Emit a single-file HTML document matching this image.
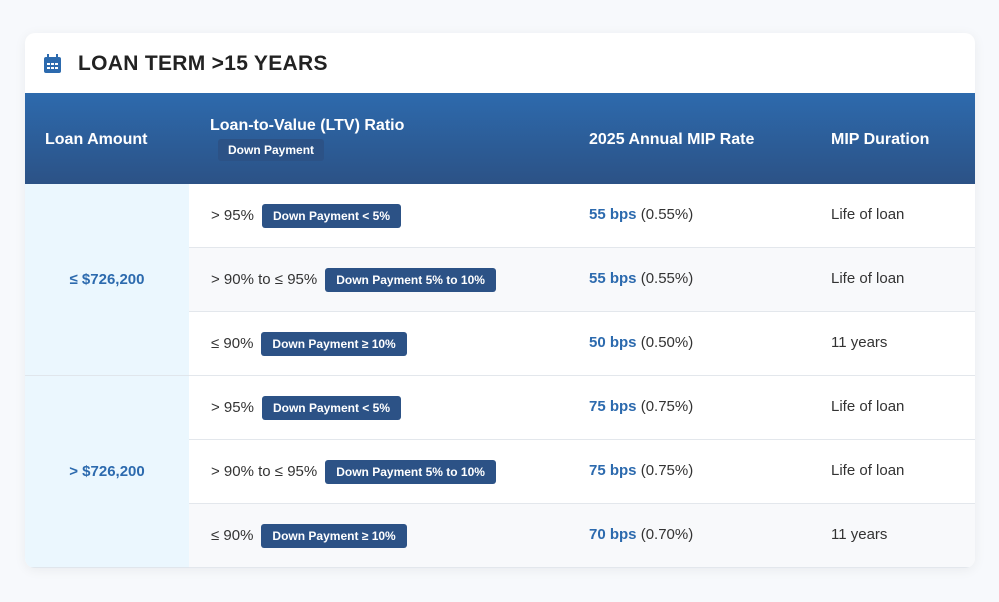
<!DOCTYPE html>
<html><head><meta charset="utf-8"><style>
body{margin:0;width:999px;height:602px;background:#f7f9fc;font-family:"Liberation Sans",sans-serif;position:relative;overflow:hidden}
.card{position:absolute;left:25px;top:33px;width:950px;height:535px;background:#fff;border-radius:10px;overflow:hidden;box-shadow:0 2px 12px rgba(0,0,0,.06)}
.title{position:absolute;left:53px;top:51px;font-size:21px;font-weight:bold;color:#222;letter-spacing:.3px}
.hdr{position:absolute;left:0;top:60px;width:950px;height:91px;background:linear-gradient(#2d6aad,#2c5286)}
.h{position:absolute;color:#fff;font-weight:bold;font-size:16px}
.row{position:absolute;left:164px;width:786px;height:63px;border-bottom:1px solid #e3e7ec}
.g{background:#f8f9fb}
.la{position:absolute;left:0;width:164px;height:191px;background:#ebf7fe;color:#2c6aae;font-weight:bold;font-size:15px;text-align:center;line-height:191px;border-bottom:1px solid #e0e6ec}
.t{position:absolute;font-size:15px;color:#333;top:22px}
.badge{display:inline-block;background:#2c5286;color:#fff;font-size:12px;font-weight:bold;padding:5px 11px;border-radius:3px;margin-left:8px;vertical-align:middle}
.rate b{color:#2c6aae}
</style></head><body>
<div class="card">
<svg style="position:absolute;left:19px;top:21px" width="17" height="19"><rect x="0" y="3" width="17" height="16" rx="2" fill="#2c6aae"/><rect x="3" y="0" width="2" height="5" fill="#2c6aae"/><rect x="12" y="0" width="2" height="5" fill="#2c6aae"/><g fill="#fff"><rect x="3" y="9" width="3" height="2"/><rect x="7" y="9" width="3" height="2"/><rect x="11" y="9" width="3" height="2"/><rect x="3" y="13" width="3" height="2"/><rect x="7" y="13" width="3" height="2"/><rect x="11" y="13" width="3" height="2"/></g></svg>
<div class="hdr">
<div class="h" style="left:20px;top:38px">Loan Amount</div>
<div class="h" style="left:185px;top:24px">Loan-to-Value (LTV) Ratio</div>
<div style="position:absolute;left:193px;top:46px;background:#2c5286;color:#fff;font-size:12px;font-weight:bold;padding:4px 10px;border-radius:3px">Down Payment</div>
<div class="h" style="left:564px;top:38px">2025 Annual MIP Rate</div>
<div class="h" style="left:806px;top:38px">MIP Duration</div>
</div>
<div class="la" style="top:151px">≤ $726,200</div>
<div class="la" style="top:343px">&gt; $726,200</div>

<div class="row" style="top:151px"><div class="t" style="left:22px;top:20px">&gt; 95%<span class="badge">Down Payment &lt; 5%</span></div><div class="t rate" style="left:400px"><b>55 bps</b> (0.55%)</div><div class="t" style="left:642px">Life of loan</div></div>
<div class="row g" style="top:215px"><div class="t" style="left:22px;top:20px">&gt; 90% to ≤ 95%<span class="badge">Down Payment 5% to 10%</span></div><div class="t rate" style="left:400px"><b>55 bps</b> (0.55%)</div><div class="t" style="left:642px">Life of loan</div></div>
<div class="row" style="top:279px"><div class="t" style="left:22px;top:20px">≤ 90%<span class="badge">Down Payment ≥ 10%</span></div><div class="t rate" style="left:400px"><b>50 bps</b> (0.50%)</div><div class="t" style="left:642px">11 years</div></div>
<div class="row" style="top:343px"><div class="t" style="left:22px;top:20px">&gt; 95%<span class="badge">Down Payment &lt; 5%</span></div><div class="t rate" style="left:400px"><b>75 bps</b> (0.75%)</div><div class="t" style="left:642px">Life of loan</div></div>
<div class="row" style="top:407px"><div class="t" style="left:22px;top:20px">&gt; 90% to ≤ 95%<span class="badge">Down Payment 5% to 10%</span></div><div class="t rate" style="left:400px"><b>75 bps</b> (0.75%)</div><div class="t" style="left:642px">Life of loan</div></div>
<div class="row g" style="top:471px"><div class="t" style="left:22px;top:20px">≤ 90%<span class="badge">Down Payment ≥ 10%</span></div><div class="t rate" style="left:400px"><b>70 bps</b> (0.70%)</div><div class="t" style="left:642px">11 years</div></div>
</div>
<div class="title" style="left:78px;top:52px">LOAN TERM &gt;15 YEARS</div>
</body></html>
